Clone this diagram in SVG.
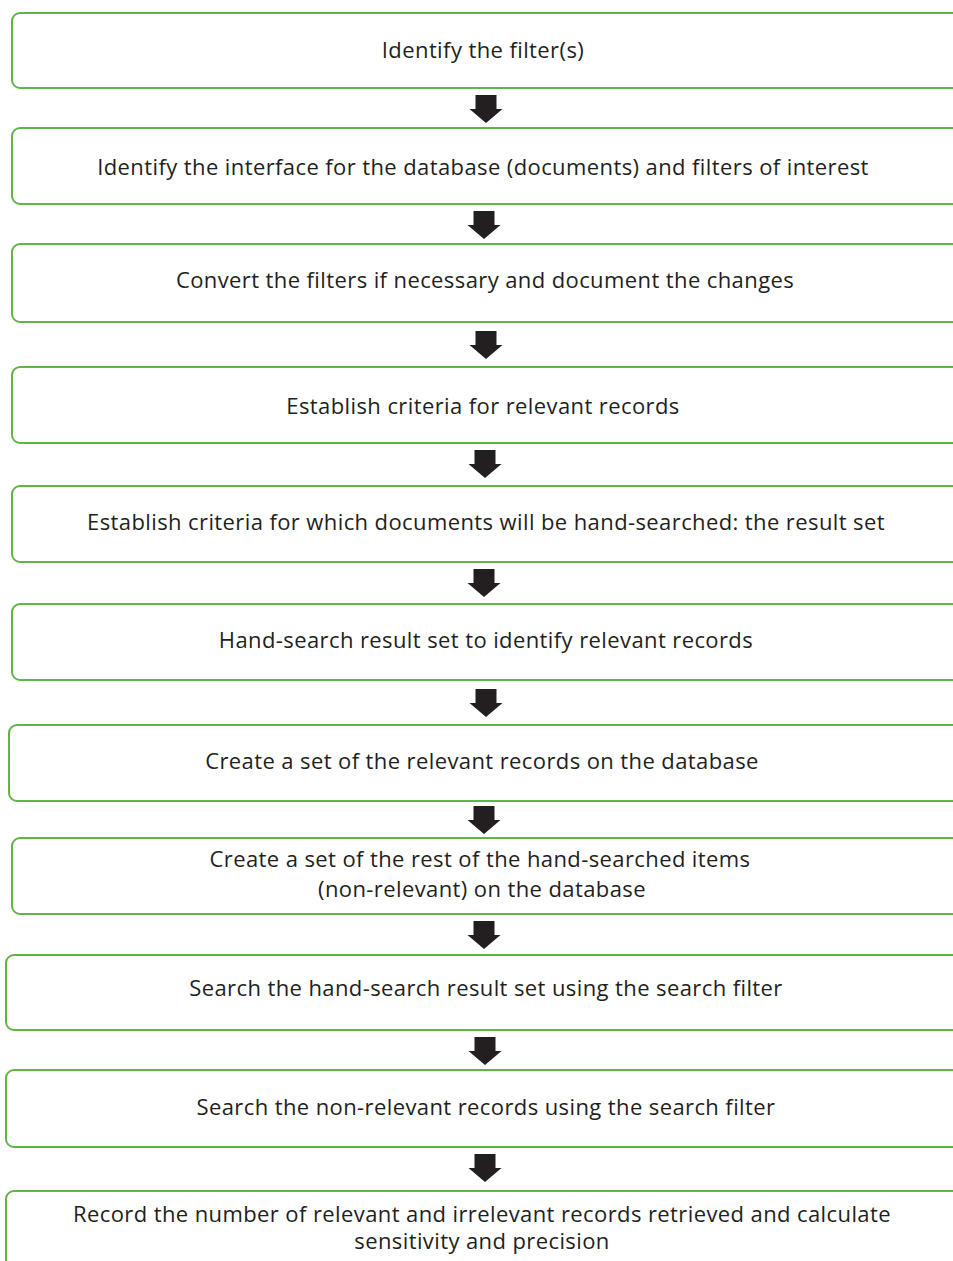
<svg xmlns="http://www.w3.org/2000/svg" xmlns:xlink="http://www.w3.org/1999/xlink" width="953" height="1261" viewBox="0 0 953 1261">
<style>
.box{fill:#ffffff;stroke:#62b446;stroke-width:2}
.t{font-family:"Open Sans","Noto Sans",sans-serif;font-size:22px;letter-spacing:0.4px;fill:#231f20;text-anchor:middle}
.arr{fill:#231f20}
</style>
<defs>
<polygon id="arrow" class="arr" points="-10.5,0 10.5,0 10.5,14 16.5,14 0,28 -16.5,14 -10.5,14"/>
</defs>
<rect width="953" height="1261" fill="#ffffff"/>
<g id="n1"><rect class="box" x="12" y="13" width="960" height="75" rx="8"/><text class="t" x="483" y="58">Identify the filter(s)</text></g>
<g id="n2"><rect class="box" x="12" y="128" width="960" height="76" rx="8"/><text class="t" x="483" y="175">Identify the interface for the database (documents) and filters of interest</text></g>
<g id="n3"><rect class="box" x="12" y="244" width="960" height="78" rx="8"/><text class="t" x="485" y="288">Convert the filters if necessary and document the changes</text></g>
<g id="n4"><rect class="box" x="12" y="367" width="960" height="76" rx="8"/><text class="t" x="483" y="414">Establish criteria for relevant records</text></g>
<g id="n5"><rect class="box" x="12" y="486" width="960" height="76" rx="8"/><text class="t" x="486" y="530">Establish criteria for which documents will be hand-searched: the result set</text></g>
<g id="n6"><rect class="box" x="12" y="604" width="960" height="76" rx="8"/><text class="t" x="486" y="648">Hand-search result set to identify relevant records</text></g>
<g id="n7"><rect class="box" x="9" y="725" width="960" height="76" rx="8"/><text class="t" x="482" y="769">Create a set of the relevant records on the database</text></g>
<g id="n8"><rect class="box" x="12" y="838" width="960" height="76" rx="8"/><text class="t"><tspan x="480" y="867">Create a set of the rest of the hand-searched items</tspan><tspan x="482" y="897">(non-relevant) on the database</tspan></text></g>
<g id="n9"><rect class="box" x="6" y="955" width="960" height="75" rx="8"/><text class="t" x="486" y="996">Search the hand-search result set using the search filter</text></g>
<g id="n10"><rect class="box" x="6" y="1070" width="960" height="77" rx="8"/><text class="t" x="486" y="1115">Search the non-relevant records using the search filter</text></g>
<g id="n11"><rect class="box" x="6" y="1191" width="960" height="90" rx="8"/><text class="t"><tspan x="482" y="1222">Record the number of relevant and irrelevant records retrieved and calculate</tspan><tspan x="482" y="1249">sensitivity and precision</tspan></text></g>
<g id="connectors">
<use xlink:href="#arrow" transform="translate(486,95)"/>
<use xlink:href="#arrow" transform="translate(484,211)"/>
<use xlink:href="#arrow" transform="translate(486,331)"/>
<use xlink:href="#arrow" transform="translate(485,450)"/>
<use xlink:href="#arrow" transform="translate(484,569)"/>
<use xlink:href="#arrow" transform="translate(486,689)"/>
<use xlink:href="#arrow" transform="translate(484,806)"/>
<use xlink:href="#arrow" transform="translate(484,921)"/>
<use xlink:href="#arrow" transform="translate(485,1037)"/>
<use xlink:href="#arrow" transform="translate(485,1154)"/>
</g>
</svg>
